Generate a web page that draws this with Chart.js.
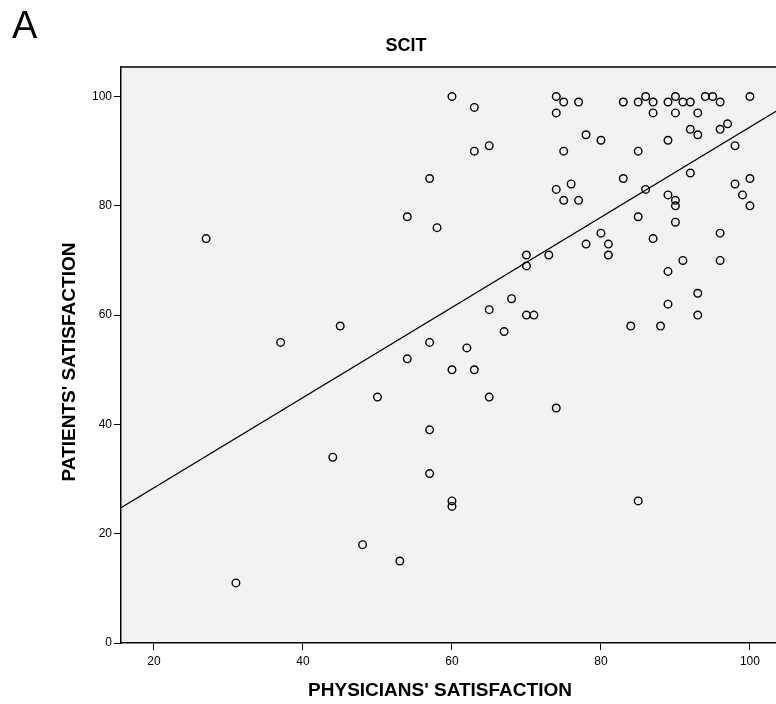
<!DOCTYPE html>
<html>
<head>
<meta charset="utf-8">
<script src="https://cdn.jsdelivr.net/npm/chart.js@4/dist/chart.umd.min.js"></script>
<style>
    html, body { margin: 0; padding: 0; background: #fff; }
</style>
</head>
<body>
<canvas id="chart" width="776" height="704"></canvas>
<script>
// Data
const physicians = [27, 31, 37, 44, 45, 48, 50, 53, 54, 54, 57, 57, 57, 57, 58, 60, 60, 60, 60, 62,
    63, 63, 63, 65, 65, 65, 67, 68, 70, 70, 70, 71, 73, 74, 74, 74, 74, 75, 75, 75,
    76, 77, 77, 78, 78, 80, 80, 81, 81, 83, 83, 84, 85, 85, 85, 85, 86, 86, 87, 87,
    87, 88, 89, 89, 89, 89, 89, 90, 90, 90, 90, 90, 91, 91, 92, 92, 92, 93, 93, 93,
    93, 94, 95, 96, 96, 96, 96, 97, 98, 98, 99, 100, 100, 100];
const patients = [74, 11, 55, 34, 58, 18, 45, 15, 78, 52, 85, 55, 39, 31, 76, 100, 50, 26, 25, 54,
    98, 90, 50, 91, 61, 45, 57, 63, 71, 69, 60, 60, 71, 100, 97, 83, 43, 99, 90, 81,
    84, 99, 81, 93, 73, 92, 75, 73, 71, 99, 85, 58, 99, 90, 78, 26, 100, 83, 99, 97,
    74, 58, 99, 92, 82, 68, 62, 100, 97, 81, 80, 77, 99, 70, 99, 94, 86, 97, 93, 64,
    60, 100, 100, 99, 94, 75, 70, 95, 91, 84, 82, 100, 85, 80];

// fitted line, as drawn
const fitIntercept = 11.9;
const fitSlope = 0.825;

const xRange = [15.57, 103.5];
const yRange = [0, 105.4];
const xTicks = [20, 40, 60, 80, 100];
const yTicks = [0, 20, 40, 60, 80, 100];

const panelLabel = 'A';
const chartTitle = 'SCIT';
const xTitle = "PHYSICIANS' SATISFACTION";
const yTitle = "PATIENTS' SATISFACTION";

const points = physicians.map((x, i) => ({ x: x, y: patients[i] }));
const fitLine = xRange.map(x => ({ x: x, y: fitIntercept + fitSlope * x }));

// plot background, top border and the texts
const decor = {
    id: 'decor',
    beforeDraw(chart) {
        const { ctx, chartArea: a } = chart;
        ctx.save();
        ctx.fillStyle = '#f2f2f2';
        ctx.fillRect(a.left, a.top, a.right - a.left, a.bottom - a.top);
        ctx.restore();
    },
    afterDraw(chart) {
        const { ctx, chartArea: a } = chart;
        ctx.save();
        ctx.strokeStyle = '#000';
        ctx.lineWidth = 1.5;
        ctx.beginPath();
        ctx.moveTo(a.left, a.top);
        ctx.lineTo(a.right, a.top);
        ctx.stroke();

        ctx.fillStyle = '#000';
        ctx.textAlign = 'left';
        ctx.textBaseline = 'alphabetic';
        ctx.font = '38px "Liberation Sans", Arial, sans-serif';
        ctx.fillText(panelLabel, 12, 38);

        ctx.textAlign = 'center';
        ctx.textBaseline = 'middle';
        ctx.font = 'bold 18px "Liberation Sans", Arial, sans-serif';
        ctx.fillText(chartTitle, 406, 46);

        ctx.font = 'bold 19px "Liberation Sans", Arial, sans-serif';
        ctx.fillText(xTitle, 440, 691);

        ctx.translate(70, 362);
        ctx.rotate(-Math.PI / 2);
        ctx.fillText(yTitle, 0, 0);
        ctx.restore();
    }
};

const tickFont = { family: '"Liberation Sans", Arial, sans-serif', size: 12 };

new Chart(document.getElementById('chart'), {
    type: 'scatter',
    data: {
        datasets: [{
            label: 'Cases',
            data: points,
            pointStyle: 'circle',
            pointRadius: 3.8,
            pointHoverRadius: 3.8,
            borderColor: '#000',
            backgroundColor: 'rgba(0,0,0,0)',
            borderWidth: 1.4
        }, {
            type: 'line',
            label: 'Fit',
            data: fitLine,
            borderColor: '#000',
            borderWidth: 1.3,
            pointRadius: 0,
            fill: false
        }]
    },
    options: {
        responsive: false,
        animation: false,
        layout: { autoPadding: false, padding: { top: 67, right: 0, left: 0, bottom: 0 } },
        plugins: {
            legend: { display: false },
            tooltip: { enabled: false }
        },
        scales: {
            x: {
                type: 'linear',
                min: xRange[0],
                max: xRange[1],
                afterBuildTicks: s => { s.ticks = xTicks.map(v => ({ value: v })); },
                afterFit: s => { s.height = 61; s.paddingLeft = 0; s.paddingRight = 0; },
                grid: { drawOnChartArea: false, drawTicks: true, tickLength: 7, color: '#000', lineWidth: 1 },
                border: { color: '#000', width: 1.5 },
                ticks: { color: '#000', font: tickFont, padding: 4, maxRotation: 0 }
            },
            y: {
                type: 'linear',
                min: yRange[0],
                max: yRange[1],
                afterBuildTicks: s => { s.ticks = yTicks.map(v => ({ value: v })); },
                afterFit: s => { s.width = 121; s.paddingTop = 0; s.paddingBottom = 0; },
                grid: { drawOnChartArea: false, drawTicks: true, tickLength: 7, color: '#000', lineWidth: 1 },
                border: { color: '#000', width: 1.5 },
                ticks: { color: '#000', font: tickFont, padding: 2 }
            }
        }
    },
    plugins: [decor]
});
</script>
</body>
</html>
